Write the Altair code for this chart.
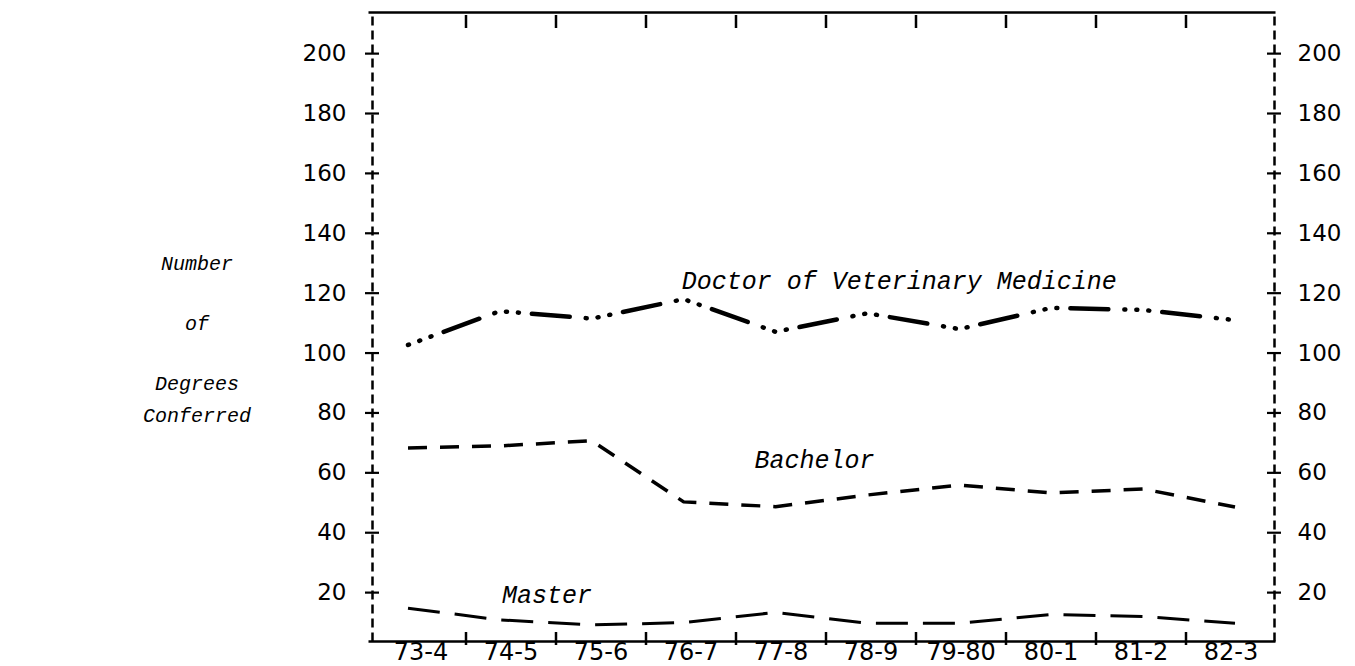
import altair as alt
import pandas as pd

# ---- data ----
years = ["73-4", "74-5", "75-6", "76-7", "77-8", "78-9", "79-80", "80-1", "81-2", "82-3"]
dvm = [102.7, 114.0, 111.5, 118.0, 107.1, 113.3, 108.0, 115.1, 114.4, 111.0]
bachelor = [68.3, 69.0, 70.7, 50.3, 48.7, 52.6, 55.9, 53.3, 54.6, 48.6]
master = [14.8, 10.9, 9.2, 10.0, 13.4, 9.8, 9.8, 12.7, 12.0, 9.8]
y_ticks = [20, 40, 60, 80, 100, 120, 140, 160, 180, 200]
inner_bounds = years[1:]

left_title_lines = ["Number", "of", "Degrees", "Conferred"]
left_title_pos = [129.7, 109.7, 89.7, 79.0]

W, H = 902, 629
Y_DOMAIN = [3.84, 213.9]

yscale = alt.Scale(domain=Y_DOMAIN, nice=False, zero=False)
band = alt.Scale(type="band", domain=years, range=[4, 904], paddingInner=0, paddingOuter=0)
frame_x = alt.Scale(type="point", domain=years, range=[-4, 903], padding=0)
pts = alt.Scale(type="point", domain=years, range=[36, 863], padding=0)

LABEL_FONT = "DejaVu Sans"
ITALIC_FONT = "Liberation Mono"

bounds_df = pd.DataFrame({"year": inner_bounds})
yt_df = pd.DataFrame({"v": y_ticks})
frame_df = pd.DataFrame({"year": [years[0]]})

# bottom axis: labels + crossing ticks at band boundaries
bottom = alt.Chart(bounds_df).mark_rule(color="black", strokeWidth=2.5).encode(
    x=alt.X("year:O", scale=band, bandPosition=0,
            axis=alt.Axis(orient="bottom", title=None, labelAngle=0, labelFont=LABEL_FONT,
                          labelFontSize=24, labelColor="black", labelPadding=18,
                          labelBaseline="alphabetic",
                          ticks=False, tickSize=0, domain=False, grid=False)),
    y=alt.value(H - 9), y2=alt.value(H + 4),
)

# top ticks pointing inward
top = alt.Chart(bounds_df).mark_rule(color="black", strokeWidth=2.5).encode(
    x=alt.X("year:O", scale=band, bandPosition=0, axis=None),
    y=alt.value(3), y2=alt.value(16),
)

# solid frame lines on top and bottom (axis domains only)
frame_bottom = alt.Chart(frame_df).mark_point(opacity=0).encode(
    x=alt.X("year:O", scale=frame_x,
            axis=alt.Axis(orient="bottom", title=None, labels=False, ticks=False, tickSize=0,
                          domain=True, domainColor="black", domainWidth=2.5, grid=False)),
    y=alt.value(H),
)
frame_top = alt.Chart(frame_df).mark_point(opacity=0).encode(
    x=alt.X("year:O", scale=frame_x,
            axis=alt.Axis(orient="top", title=None, labels=False, ticks=False, tickSize=0,
                          domain=True, domainColor="black", domainWidth=2.5, grid=False)),
    y=alt.value(0),
)

left_ticks = alt.Chart(yt_df).mark_rule(color="black", strokeWidth=2.2).encode(
    y=alt.Y("v:Q", scale=yscale,
            axis=alt.Axis(orient="left", values=y_ticks, title=None, labelFont=LABEL_FONT,
                          labelFontSize=23, labelColor="black", labelPadding=26,
                          ticks=False, tickSize=0, domain=True, domainColor="black",
                          domainDash=[9, 5], domainWidth=2.5, grid=False)),
    x=alt.value(-7), x2=alt.value(7),
)

right_ticks = alt.Chart(yt_df).mark_rule(color="black", strokeWidth=2.2).encode(
    y=alt.Y("v:Q", scale=yscale,
            axis=alt.Axis(orient="right", values=y_ticks, title=None, labelFont=LABEL_FONT,
                          labelFontSize=23, labelColor="black", labelPadding=23,
                          ticks=False, tickSize=0, domain=True, domainColor="black",
                          domainDash=[9, 5], domainWidth=2.5, grid=False)),
    x=alt.value(W - 7), x2=alt.value(W + 7),
)


def series_line(vals, dash, width, cap):
    df = pd.DataFrame({"year": years, "v": vals})
    return alt.Chart(df).mark_line(color="black", strokeWidth=width, strokeDash=dash,
                                   strokeCap=cap).encode(
        x=alt.X("year:O", scale=pts, axis=None),
        y=alt.Y("v:Q", scale=yscale, axis=None),
    )


line_dvm = series_line(dvm, [1, 11, 1, 11, 1, 13, 38, 16], 4.5, "round")
line_bach = series_line(bachelor, [19, 13], 3.5, "butt")
line_master = series_line(master, [32, 15], 3, "butt")


def annotation(text, year, v, dx):
    df = pd.DataFrame({"year": [year], "v": [v], "t": [text]})
    return alt.Chart(df).mark_text(font=ITALIC_FONT, fontStyle="italic", fontSize=25,
                                   color="black", align="left", baseline="alphabetic",
                                   dx=dx).encode(
        x=alt.X("year:O", scale=pts, axis=None),
        y=alt.Y("v:Q", scale=yscale, axis=None),
        text="t:N",
    )


ann_dvm = annotation("Doctor of Veterinary Medicine", "76-7", 121.4, -2)
ann_bach = annotation("Bachelor", "77-8", 61.6, -21)
ann_master = annotation("Master", "74-5", 16.5, 2)

title_df = pd.DataFrame({"t": left_title_lines, "v": left_title_pos})
left_title = alt.Chart(title_df).mark_text(font=ITALIC_FONT, fontStyle="italic", fontSize=20,
                                           color="black", align="center",
                                           baseline="middle").encode(
    x=alt.value(-175),
    y=alt.Y("v:Q", scale=yscale, axis=None),
    text="t:N",
)

chart = alt.layer(
    frame_bottom, frame_top, bottom, top, left_ticks, right_ticks,
    line_dvm, line_bach, line_master,
    ann_dvm, ann_bach, ann_master, left_title,
).resolve_scale(x="independent").resolve_axis(x="independent", y="independent").properties(
    width=W, height=H,
    padding={"left": 364, "top": 4, "right": 72, "bottom": 24},
    autosize=alt.AutoSizeParams(type="none"),
    background="white",
).configure_view(stroke=None)

chart.save("out.html", embed_options={"renderer": "svg", "actions": False})
